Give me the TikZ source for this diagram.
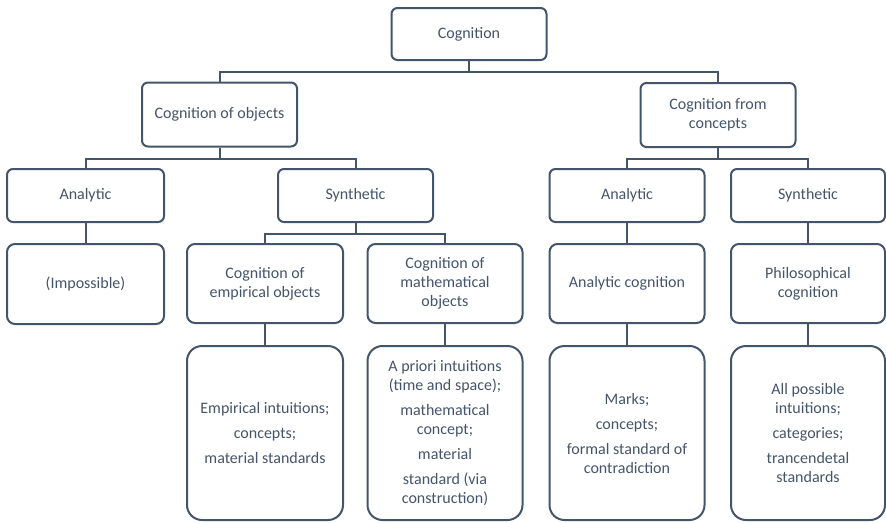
\documentclass[tikz,border=0pt]{standalone}
\usepackage{fontspec}
\setmainfont{Carlito}
\definecolor{slatec}{HTML}{44546A}

\begin{document}
\begin{tikzpicture}[x=1pt,y=-1pt,
  cnode/.style={draw=slatec,line width=2pt,text=slatec,align=center,inner sep=2pt,
    font=\fontsize{16}{19}\selectfont},
  headc/.style={cnode,rounded corners=6pt,minimum width=155pt,minimum height=53pt},
  midc/.style={cnode,rounded corners=8pt,minimum width=155pt,minimum height=79pt},
  basec/.style={cnode,rounded corners=15pt,minimum width=155pt,minimum height=174pt},
  linkc/.style={draw=slatec,line width=2pt}]
\useasboundingbox (0,0) rectangle (886,522);

\node[headc,minimum height=52pt] (cog) at (469,34) {Cognition};
\node[headc,minimum height=64pt] (obj) at (219.5,114.5) {Cognition of objects};
\node[headc,minimum height=64pt] (con) at (718,115) {Cognition from\\concepts};

\node[headc,minimum width=157pt] (lana) at (85.5,195.5) {Analytic};
\node[headc] (lsyn) at (355.5,195.5) {Synthetic};
\node[headc] (rana) at (627,195.5) {Analytic};
\node[headc,minimum width=154pt] (rsyn) at (808,195.5) {Synthetic};

\node[midc,minimum width=157pt,minimum height=80pt] (imp) at (85.5,284) {(Impossible)};
\node[midc,minimum width=156pt] (emp) at (265,283.5) {Cognition of\\empirical objects};
\node[midc] (mat) at (445,283.5) {Cognition of\\mathematical\\objects};
\node[midc] (anc) at (627,283.5) {Analytic cognition};
\node[midc,minimum width=154pt] (phc) at (808,283.5) {Philosophical\\cognition};

\node[basec,minimum width=156pt] (emps) at (265,433) {Empirical intuitions;\\[6pt]concepts;\\[6pt]material standards};
\node[basec] (mats) at (445,433) {A priori intuitions\\(time and space);\\[6pt]mathematical\\concept;\\[6pt]material\\[6pt]standard (via\\construction)};
\node[basec] (ancs) at (627,433) {Marks;\\[6pt]concepts;\\[6pt]formal standard of\\contradiction};
\node[basec,minimum width=154pt] (phcs) at (808,433) {All possible\\intuitions;\\[6pt]categories;\\[6pt]trancendetal\\standards};

\draw[linkc] (cog.south) -- ++(0,11) -| (obj.north);
\draw[linkc] (cog.south) -- ++(0,11) -| (con.north);
\draw[linkc] (obj.south) -- ++(0,11) -| (lana.north);
\draw[linkc] (obj.south) -- ++(0,11) -| (lsyn.north);
\draw[linkc] (con.south) -- ++(0,11) -| (rana.north);
\draw[linkc] (con.south) -- ++(0,11) -| (rsyn.north);
\draw[linkc] (lsyn.south) -- ++(0,11) -| (emp.north);
\draw[linkc] (lsyn.south) -- ++(0,11) -| (mat.north);
\draw[linkc] (lana.south) -- (imp.north);
\draw[linkc] (rana.south) -- (anc.north);
\draw[linkc] (rsyn.south) -- (phc.north);
\draw[linkc] (emp.south) -- (emps.north);
\draw[linkc] (mat.south) -- (mats.north);
\draw[linkc] (anc.south) -- (ancs.north);
\draw[linkc] (phc.south) -- (phcs.north);
\end{tikzpicture}
\end{document}
